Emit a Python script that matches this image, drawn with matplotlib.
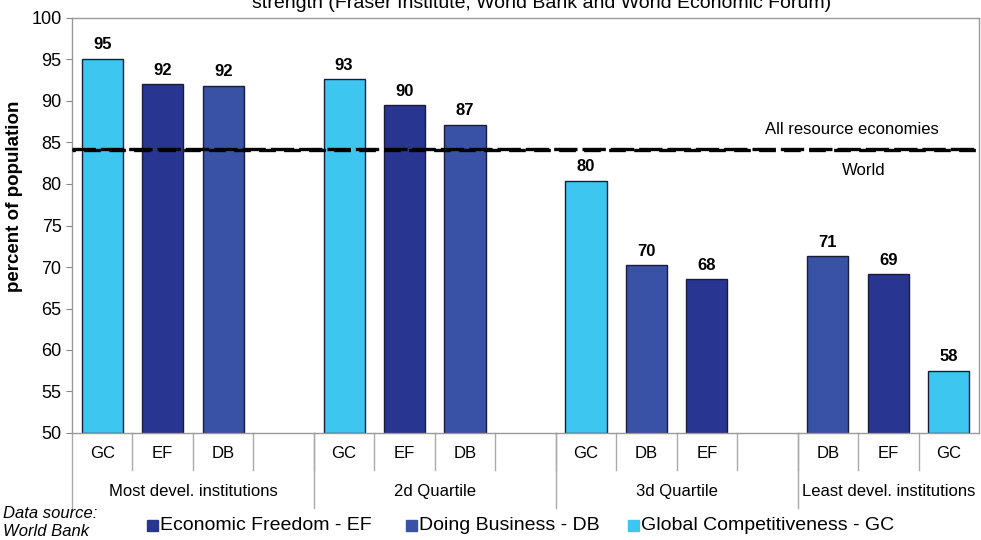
import numpy as np
import matplotlib
matplotlib.use("Agg")
import matplotlib.pyplot as plt
from matplotlib.patches import Rectangle

plt.rcParams['font.family'] = ['Liberation Sans', 'DejaVu Sans']

# data
groups = ["Most devel. institutions", "2d Quartile", "3d Quartile", "Least devel. institutions"]
slot_labels = ["GC", "EF", "DB", "",
               "GC", "EF", "DB", "",
               "GC", "DB", "EF", "",
               "DB", "EF", "GC"]
values = [95.1, 92.0, 91.8, None,
          92.6, 89.5, 87.1, None,
          80.4, 70.2, 68.5, None,
          71.3, 69.1, 57.5]
value_text = ["95", "92", "92", "",
              "93", "90", "87", "",
              "80", "70", "68", "",
              "71", "69", "58"]
all_resource = 84.2
world = 84.05

colors = {"EF": "#283591", "DB": "#3952a6", "GC": "#3cc6f0"}
legend_names = [("EF", "Economic Freedom - EF"),
                ("DB", "Doing Business - DB"),
                ("GC", "Global Competitiveness - GC")]

fig = plt.figure(figsize=(9.81, 5.40), dpi=100)
ax = fig.add_axes([72/981, 107/540, 907/981, 415/540])

for i, (lab, v) in enumerate(zip(slot_labels, values)):
    if v is None:
        continue
    ax.bar(i, v - 50, bottom=50, width=0.68, color=colors[lab],
           edgecolor="#1a1a3a", linewidth=1.0, zorder=2)
    ax.text(i, v + 0.8, value_text[i], ha="center", va="bottom",
            fontsize=12, fontweight="bold", zorder=4)

ax.axhline(all_resource, color="black", lw=2.4, ls=(0, (7, 1.5)), zorder=3)
ax.axhline(world, color="black", lw=2.4, ls=(4, (5, 2.5)), zorder=3)
ax.text(12.4, 86.6, "All resource economies", ha="center", va="center", fontsize=12)
ax.text(12.6, 81.6, "World", ha="center", va="center", fontsize=12)

ax.set_xlim(-0.5, len(slot_labels) - 0.5)
ax.set_ylim(50, 100)
ax.set_yticks(np.arange(50, 101, 5))
ax.tick_params(axis="y", labelsize=13, length=4, color="#888888")
ax.set_xticks([])
for s in ax.spines.values():
    s.set_color("#999999")
    s.set_linewidth(1.0)
ax.set_ylabel("percent of population", fontsize=13.5, fontweight="bold")
ax.yaxis.set_label_coords(-0.054, 0.57)

# two-level category axis
trans = ax.get_xaxis_transform()
for i, lab in enumerate(slot_labels):
    ax.text(i, -0.05, lab, transform=trans, ha="center", va="center", fontsize=12)
for xb in np.arange(0.5, len(slot_labels) - 0.5, 1.0):
    ax.plot([xb, xb], [0, -0.09], transform=trans, color="#aaaaaa", lw=1.0, clip_on=False)
for xb in [-0.5, 3.5, 7.5, 11.5]:
    ax.plot([xb, xb], [0, -0.18], transform=trans, color="#aaaaaa", lw=1.0, clip_on=False)
group_centers = [1.5, 5.5, 9.5, 13.0]
for gc, g in zip(group_centers, groups):
    ax.text(gc, -0.142, g, transform=trans, ha="center", va="center", fontsize=12)

# title (cut at top)
fig.text(0.552, 0.985, "strength (Fraser Institute, World Bank and World Economic Forum)",
         ha="center", va="baseline", fontsize=14)

# legend
fig.text(0.003, 1 - 513/540, "Data source:", fontsize=12, style="italic", va="center")
fig.text(0.003, 1 - 531/540, "World Bank", fontsize=12, style="italic", va="center")
leg_x = [147, 406, 628]
for (key, name), lx in zip(legend_names, leg_x):
    fig.patches.append(Rectangle((lx/981, 1 - 531/540), 11/981, 11/540,
                                 transform=fig.transFigure, color=colors[key]))
    fig.text((lx + 13)/981, 1 - 526/540, name, fontsize=14, va="center")

fig.savefig("out.png", dpi=100)
